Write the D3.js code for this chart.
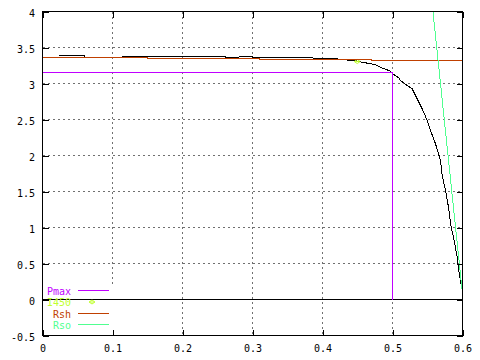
<!DOCTYPE html>
<html>
<head>
<meta charset="utf-8">
<script src="https://cdn.jsdelivr.net/npm/d3@7"></script>
<style>
  body { margin: 0; background: #fff; }
  svg { display: block; }
  text { font-family: "DejaVu Sans Mono", monospace; font-size: 10px; }
</style>
</head>
<body>
<svg id="chart"></svg>
<script>
// measured IV curve (no legend entry)
const ivV = [0.024, 0.060, 0.061, 0.113, 0.114, 0.261, 0.263, 0.280, 0.281, 0.300, 0.301, 0.361,
  0.378, 0.416, 0.420, 0.440, 0.447, 0.4567, 0.4686, 0.4757, 0.4853, 0.4961, 0.5019, 0.509,
  0.5114, 0.521, 0.5281, 0.5353, 0.5424, 0.5496, 0.5543, 0.5614, 0.5686, 0.571, 0.5757,
  0.5804, 0.5829, 0.5876, 0.5924, 0.5947, 0.5971, 0.5996, 0.6];
const ivI = [3.386, 3.386, 3.366, 3.366, 3.372, 3.372, 3.357, 3.357, 3.371, 3.371, 3.357, 3.357,
  3.357, 3.343, 3.343, 3.320, 3.316, 3.296, 3.274, 3.260, 3.213, 3.176, 3.125, 3.079,
  3.042, 2.972, 2.926, 2.788, 2.649, 2.486, 2.347, 2.163, 1.931, 1.722, 1.514,
  1.260, 1.051, 0.843, 0.588, 0.403, 0.264, 0.125, -0.038];

const pmaxV = [0, 0.5, 0.5];
const pmaxI = [3.153, 3.153, 0];
const i450V = [0.4496];
const i450I = [3.305];
const rshV = [0, 0.6];
const rshI = [3.367, 3.315];
const rsoV = [0.5578, 0.6];
const rsoI = [4, 0.08];

const xTicks = [0, 0.1, 0.2, 0.3, 0.4, 0.5, 0.6];
const xLabels = ["0", "0.1", "0.2", "0.3", "0.4", "0.5", "0.6"];
const yTicks = [-0.5, 0, 0.5, 1, 1.5, 2, 2.5, 3, 3.5, 4];
const yLabels = ["-0.5", "0", "0.5", "1", "1.5", "2", "2.5", "3", "3.5", "4"];

const legendNames = ["Pmax", "I450", "Rsh", "Rso"];
const colors = { Pmax: "#c000ff", I450: "#c0ff30", Rsh: "#c04000", Rso: "#50ff90", iv: "#000" };

const w = 480, h = 360;
const svg = d3.select("#chart").attr("width", w).attr("height", h);

const x = d3.scaleLinear().domain([0, 0.6]).range([42.5, 462.5]);
const y = d3.scaleLinear().domain([-0.5, 4]).range([335.5, 11.5]);

// grid
const grid = svg.append("g").attr("stroke", "#707070").attr("stroke-dasharray", "2,3")
  .attr("shape-rendering", "crispEdges");
grid.selectAll("line.gx").data(xTicks.slice(1, -1)).enter().append("line")
  .attr("x1", d => x(d)).attr("x2", d => x(d)).attr("y1", y(4)).attr("y2", y(-0.5));
grid.selectAll("line.gy").data(yTicks.filter(d => d > -0.5 && d < 4 && d !== 0)).enter().append("line")
  .attr("y1", d => y(d)).attr("y2", d => y(d)).attr("x1", x(0)).attr("x2", x(0.6));

// key area is opaque
svg.append("rect").attr("x", 43).attr("y", 284).attr("width", 75).attr("height", 51).attr("fill", "#fff");

// zero axis
svg.append("line").attr("x1", x(0)).attr("x2", x(0.6)).attr("y1", y(0)).attr("y2", y(0))
  .attr("stroke", "#000").attr("shape-rendering", "crispEdges");

svg.append("clipPath").attr("id", "clip").append("rect")
  .attr("x", 42).attr("y", 11).attr("width", 421).attr("height", 325);

const plot = svg.append("g").attr("clip-path", "url(#clip)");
const line = d3.line().x(d => x(d[0])).y(d => y(d[1]));

plot.append("path").datum(d3.zip(ivV, ivI)).attr("d", line)
  .attr("fill", "none").attr("stroke", colors.iv).attr("shape-rendering", "crispEdges");
plot.append("path").datum(d3.zip(pmaxV, pmaxI)).attr("d", line)
  .attr("fill", "none").attr("stroke", colors.Pmax).attr("shape-rendering", "crispEdges");

const marker = "M-3,0L0,-2L3,0L0,2Z M-2,0L2,0";
plot.selectAll("path.pt").data(d3.zip(i450V, i450I)).enter().append("path")
  .attr("d", marker).attr("transform", d => `translate(${x(d[0])},${y(d[1])})`)
  .attr("fill", "none").attr("stroke", colors.I450);

plot.append("path").datum(d3.zip(rshV, rshI)).attr("d", line)
  .attr("fill", "none").attr("stroke", colors.Rsh).attr("shape-rendering", "crispEdges");
plot.append("path").datum(d3.zip(rsoV, rsoI)).attr("d", line)
  .attr("fill", "none").attr("stroke", colors.Rso).attr("shape-rendering", "crispEdges");

// border
svg.append("rect").attr("x", x(0)).attr("y", y(4)).attr("width", x(0.6) - x(0)).attr("height", y(-0.5) - y(4))
  .attr("fill", "none").attr("stroke", "#000").attr("shape-rendering", "crispEdges");

// axes (inward ticks on all four sides)
const styleAxis = g => {
  g.select(".domain").remove();
  g.selectAll(".tick line").attr("stroke", "#000").attr("shape-rendering", "crispEdges");
  g.selectAll("text").attr("fill", "#000").style("font-family", "'DejaVu Sans Mono', monospace").style("font-size", "10px");
};
svg.append("g").attr("transform", `translate(0,${y(-0.5)})`)
  .call(d3.axisBottom(x).tickValues(xTicks).tickFormat((d, i) => xLabels[i]).tickSize(-6).tickPadding(9))
  .call(styleAxis);
svg.append("g").attr("transform", `translate(${x(0)},0)`)
  .call(d3.axisLeft(y).tickValues(yTicks).tickFormat((d, i) => yLabels[i]).tickSize(-6).tickPadding(7.5))
  .call(styleAxis)
  .call(g => g.selectAll("text").attr("dy", "0.5em"));
svg.append("g").attr("transform", `translate(0,${y(4)})`)
  .call(d3.axisTop(x).tickValues(xTicks).tickFormat("").tickSize(-6)).call(styleAxis);
svg.append("g").attr("transform", `translate(${x(0.6)},0)`)
  .call(d3.axisRight(y).tickValues(yTicks).tickFormat("").tickSize(-6)).call(styleAxis);

// legend
const rowY = [290.5, 302, 313.5, 325];
const key = svg.append("g");
legendNames.forEach((name, i) => {
  key.append("text").attr("x", 71).attr("y", rowY[i] + 4).attr("text-anchor", "end")
    .attr("fill", colors[name]).text(name);
  if (name === "I450") {
    key.append("path").attr("d", marker).attr("transform", `translate(92,${rowY[i]})`)
      .attr("fill", "none").attr("stroke", colors[name]);
  } else {
    key.append("line").attr("x1", 78).attr("x2", 109).attr("y1", rowY[i] - 0.5).attr("y2", rowY[i] - 0.5)
      .attr("stroke", colors[name]).attr("shape-rendering", "crispEdges");
  }
});
</script>
</body>
</html>
